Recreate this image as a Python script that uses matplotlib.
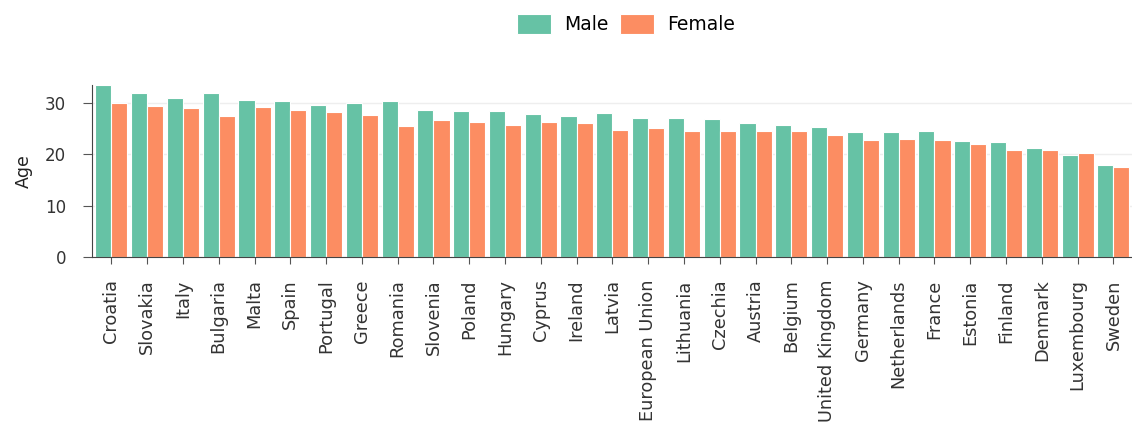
import numpy as np
import matplotlib.pyplot as plt

countries = ['Croatia', 'Slovakia', 'Italy', 'Bulgaria', 'Malta', 'Spain', 'Portugal',
             'Greece', 'Romania', 'Slovenia', 'Poland', 'Hungary', 'Cyprus', 'Ireland',
             'Latvia', 'European Union', 'Lithuania', 'Czechia', 'Austria', 'Belgium',
             'United Kingdom', 'Germany', 'Netherlands', 'France', 'Estonia', 'Finland',
             'Denmark', 'Luxembourg', 'Sweden']
male = [33.5, 32.0, 31.0, 32.0, 30.5, 30.3, 29.7, 30.0, 30.3, 28.6, 28.4, 28.4, 27.9, 27.5,
        28.1, 27.1, 27.1, 26.8, 26.2, 25.8, 25.3, 24.3, 24.3, 24.5, 22.6, 22.4, 21.3, 19.9, 17.9]
female = [29.9, 29.5, 29.0, 27.5, 29.2, 28.6, 28.3, 27.7, 25.6, 26.6, 26.3, 25.8, 26.3, 26.1,
          24.8, 25.1, 24.6, 24.6, 24.6, 24.5, 23.8, 22.8, 23.0, 22.8, 22.0, 20.9, 20.8, 20.2, 17.6]

plt.rcParams['font.family'] = ['DejaVu Sans']

fig = plt.figure(figsize=(11.32, 4.25), dpi=100)
ax = fig.add_axes([0.081, 0.395, 0.919, 0.405])

x = np.arange(len(countries))
w = 0.45
ax.bar(x - w / 2, male, w, color='#66c2a5', edgecolor='white', linewidth=0.8, label='Male')
ax.bar(x + w / 2, female, w, color='#fc8d62', edgecolor='white', linewidth=0.8, label='Female')

ax.set_xlim(-0.55, len(countries) - 0.48)
ax.set_ylim(0, 33.5)
ax.set_yticks([0, 10, 20, 30])
ax.set_xticks(x)
ax.set_xticklabels(countries, rotation=90, fontsize=12.8, color='#333333')
ax.tick_params(axis='y', labelsize=12, labelcolor='#333333', length=6.5, color='#555555', pad=12)
ax.tick_params(axis='x', length=5, color='#555555', pad=11)
ax.set_ylabel('Age', fontsize=12.5, color='#222222', labelpad=9)

ax.grid(axis='y', color='#eeeeee', linewidth=1)
ax.set_axisbelow(True)
for s in ['top', 'right']:
    ax.spines[s].set_visible(False)
ax.spines['left'].set_color('#444444')
ax.spines['bottom'].set_color('#444444')

fig.legend(loc='center', bbox_to_anchor=(0.553, 0.943), ncol=2, frameon=False,
           fontsize=13.5, handlelength=1.8, handleheight=1.25, columnspacing=0.65,
           handletextpad=0.7)

fig.savefig('out.png', dpi=100)
